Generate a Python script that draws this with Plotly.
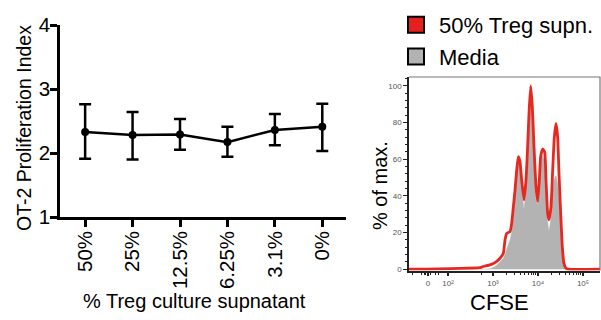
import plotly.graph_objects as go

# ---------------- Data ----------------
categories = ["50%", "25%", "12.5%", "6.25%", "3.1%", "0%"]
prolif_mean = [2.33, 2.28, 2.29, 2.17, 2.36, 2.41]
prolif_upper = [2.76, 2.64, 2.53, 2.41, 2.61, 2.77]
prolif_lower = [1.91, 1.90, 2.05, 1.94, 2.12, 2.03]
prolif_yticks = [1, 2, 3, 4]

# CFSE histogram (x in log10 display units of the FlowJo axis)
cfse_x = [2.711, 2.785, 2.933, 3.044, 3.156, 3.230, 3.267, 3.304, 3.378, 3.415,
          3.452, 3.489, 3.526, 3.563, 3.600, 3.637, 3.689, 3.733, 3.770, 3.800,
          3.837, 3.874, 3.911, 3.956, 3.993, 4.030, 4.059, 4.104, 4.148, 4.178,
          4.215, 4.244, 4.289, 4.326, 4.363, 4.400, 4.437, 4.467, 4.504, 4.541,
          4.578, 4.622, 4.674]
treg_y = [0.9, 1.5, 2.4, 3.6, 6, 8.7, 16, 19.6, 20.5, 25,
          34, 43, 54, 61.5, 58.7, 48.7, 37.8, 48.7, 67, 85,
          100, 88.7, 67, 45, 37, 48.7, 61.5, 65.6, 64, 48.7,
          30.5, 27, 34, 54, 72, 79.6, 72, 52, 30.5, 12,
          3, 0.5, 0]
media_y = [0, 0, 0.3, 1.5, 4, 6, 8, 11, 16, 20,
           28, 40, 56, 62, 57, 46, 33, 44, 64, 82,
           97, 86, 62, 38, 35, 46, 57, 62, 58, 44,
           26, 21, 28, 42, 49, 51, 46, 38, 26, 11,
           3, 0.5, 0]
cfse_axis_min = 1.133
cfse_axis_max = 5.378
cfse_tickvals = [1.556, 2, 3, 4, 5]
cfse_ticktext = ["0", "10²", "10³", "10⁴", "10⁵"]
cfse_minor = [1.2, 1.42, 1.47, 1.51, 1.6, 1.72, 1.79, 2.75,
              3.301, 3.477, 3.602, 3.699, 3.778, 3.845, 3.903, 3.954,
              4.301, 4.477, 4.602, 4.699, 4.778, 4.845, 4.903, 4.954]
pct_yticks = [0, 20, 40, 60, 80, 100]

FONT = "Liberation Sans, Arial, sans-serif"
W, H = 601, 320

fig = go.Figure()

# ---------------- Left: line with error bars ----------------
fig.add_trace(go.Scatter(
    x=categories, y=prolif_mean, mode="lines+markers",
    line=dict(color="black", width=2.5),
    marker=dict(color="black", size=8),
    error_y=dict(type="data", symmetric=False,
                 array=[u - m for u, m in zip(prolif_upper, prolif_mean)],
                 arrayminus=[m - l for m, l in zip(prolif_mean, prolif_lower)],
                 width=6, thickness=2.5, color="black"),
    showlegend=False, xaxis="x", yaxis="y"))

# ---------------- Right: histogram ----------------
fig.add_trace(go.Scatter(
    x=cfse_x, y=media_y, mode="lines", fill="tozeroy",
    fillcolor="#b3b3b3", line=dict(color="#b3b3b3", width=0.5, shape="spline", smoothing=0.5),
    showlegend=False, xaxis="x2", yaxis="y2"))
fig.add_trace(go.Scatter(
    x=[cfse_axis_min] + cfse_x + [cfse_axis_max], y=[0] + treg_y + [0], mode="lines",
    line=dict(color="#e8271f", width=2.8, shape="spline", smoothing=0.5),
    showlegend=False, xaxis="x2", yaxis="y2"))

# legend entries
fig.add_trace(go.Scatter(
    x=[None], y=[None], mode="markers", name="50% Treg supn.",
    marker=dict(symbol="square", size=16, color="#e8201c", line=dict(color="black", width=2)),
    xaxis="x2", yaxis="y2"))
fig.add_trace(go.Scatter(
    x=[None], y=[None], mode="markers", name="Media",
    marker=dict(symbol="square", size=16, color="#b3b3b3", line=dict(color="black", width=2)),
    xaxis="x2", yaxis="y2"))

px2x = lambda p: p / W
px2y = lambda p: 1 - p / H

def ann(text, x, y, size, angle=0):
    return dict(text=text, textangle=angle, x=px2x(x), y=px2y(y),
                xref="paper", yref="paper", xanchor="center", yanchor="middle",
                showarrow=False, font=dict(size=size, family=FONT, color="black"))

fig.update_layout(
    width=W, height=H,
    margin=dict(l=0, r=0, t=0, b=0, pad=0, autoexpand=False),
    paper_bgcolor="white", plot_bgcolor="white",
    font=dict(family=FONT, color="black"),
    xaxis=dict(domain=[px2x(60), px2x(346)], type="category", automargin=False,
               range=[-0.53, 5.5], showgrid=False, zeroline=False,
               showline=True, linecolor="black", linewidth=2.5,
               ticks="outside", ticklen=7, tickwidth=2.5, tickcolor="black",
               ticklabelstandoff=-4,
               tickangle=-90, tickfont=dict(size=20.5, family=FONT)),
    yaxis=dict(domain=[px2y(217), px2y(25)], range=[1, 4], automargin=False,
               tickvals=prolif_yticks, showgrid=False, zeroline=False,
               showline=True, linecolor="black", linewidth=2.5,
               ticks="outside", ticklen=7, tickwidth=2.5, tickcolor="black",
               ticklabelstandoff=-4,
               tickfont=dict(size=20.5, family=FONT)),
    xaxis2=dict(domain=[px2x(409), px2x(600)], anchor="y2", automargin=False,
                range=[cfse_axis_min, cfse_axis_max], showgrid=False, zeroline=False,
                showline=True, linecolor="#222", linewidth=1.5,
                tickvals=cfse_tickvals, ticktext=cfse_ticktext,
                ticks="outside", ticklen=4, tickwidth=1.5, tickcolor="#222",
                minor=dict(tickvals=cfse_minor, ticks="outside", ticklen=3, tickwidth=1.2, tickcolor="#222"),
                tickfont=dict(size=8, color="#555", family=FONT)),
    yaxis2=dict(domain=[px2y(270.5), px2y(77)], anchor="x2", automargin=False,
                range=[-0.7, 104.9], showgrid=False, zeroline=False,
                showline=True, linecolor="#222", linewidth=1.5,
                tickvals=pct_yticks,
                ticks="outside", ticklen=4, tickwidth=1.2, tickcolor="#222",
                minor=dict(dtick=4, ticks="outside", ticklen=2, tickwidth=1, tickcolor="#222"),
                tickfont=dict(size=8, color="#555", family=FONT)),
    legend=dict(x=px2x(393), y=px2y(4), xanchor="left", yanchor="top",
                font=dict(size=22, family=FONT), bgcolor="rgba(0,0,0,0)",
                itemsizing="trace", itemwidth=36, tracegroupgap=0),
    shapes=[
        dict(type="path", xref="x2 domain", yref="y2 domain",
             path="M 0 1 L 1 1 L 1 0", line=dict(color="#777", width=1.2)),
    ],
    annotations=[
        ann("OT-2 Proliferation Index", 23.5, 128.5, 19.5, -90),
        ann("% Treg culture supnatant", 194, 301, 20),
        ann("% of max.", 380, 186, 20, -90),
        ann("CFSE", 499, 302, 22),
    ],
)

fig.write_html("out.html")
